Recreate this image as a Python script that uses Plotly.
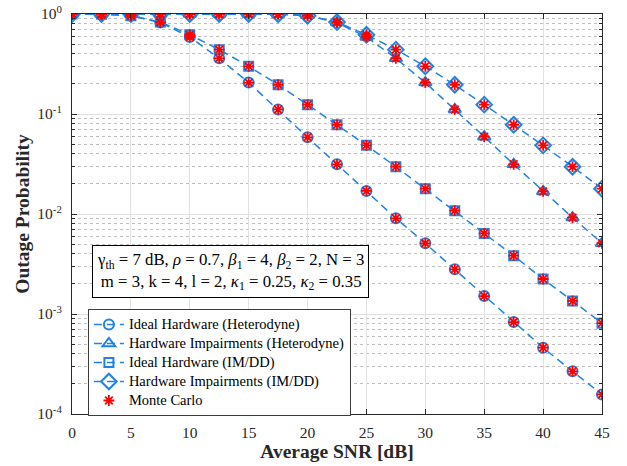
import plotly.graph_objects as go

snr_db = [0, 2.5, 5, 7.5, 10, 12.5, 15, 17.5, 20, 22.5, 25, 27.5, 30, 32.5, 35, 37.5, 40, 42.5, 45]

ideal_het = [1.0, 0.995, 0.97, 0.82, 0.59, 0.36, 0.206, 0.111, 0.0585, 0.0314, 0.017,
             0.00906, 0.00509, 0.0028, 0.00151, 0.00083, 0.00046, 0.000267, 0.000157]
hwi_het = [1.0, 1.0, 1.0, 1.0, 1.0, 1.0, 0.999, 0.995, 0.97, 0.82, 0.59,
           0.36, 0.206, 0.111, 0.0593, 0.0314, 0.0168, 0.0092, 0.0051]
ideal_imdd = [1.0, 0.995, 0.96, 0.83, 0.62, 0.44, 0.30, 0.196, 0.124, 0.078, 0.0486,
              0.0297, 0.0179, 0.0108, 0.0064, 0.00383, 0.00224, 0.00135, 0.00081]
hwi_imdd = [1.0, 1.0, 1.0, 1.0, 1.0, 1.0, 0.999, 0.995, 0.96, 0.83, 0.62,
            0.44, 0.30, 0.196, 0.124, 0.078, 0.0486, 0.0297, 0.0179]

series_names = ["Ideal Hardware (Heterodyne)", "Hardware Impairments (Heterodyne)",
                "Ideal Hardware (IM/DD)", "Hardware Impairments (IM/DD)"]
mc_name = "Monte Carlo"
series_values = [ideal_het, hwi_het, ideal_imdd, hwi_imdd]
series_symbols = ["circle-open", "triangle-up-open", "square-open", "diamond-open"]

y_tickvals = [1e-4, 1e-3, 1e-2, 1e-1, 1]
y_ticktext = ["10<sup>-4</sup>", "10<sup>-3</sup>", "10<sup>-2</sup>", "10<sup>-1</sup>", "10<sup>0</sup>"]
x_tickvals = [0, 5, 10, 15, 20, 25, 30, 35, 40, 45]

BLUE = "rgb(30,130,230)"
RED = "rgb(255,0,0)"
FONT = "Liberation Serif"
AX = "rgb(40,40,40)"


def legend_label(s):
    # rendered larger than the legend font so rows stay tight
    return '<span style="font-size:14.5px">' + s + '</span>'


fig = go.Figure()
for name, vals, sym in zip(series_names, series_values, series_symbols):
    fig.add_trace(go.Scatter(
        x=snr_db, y=vals, name=legend_label(name), mode="lines+markers",
        line=dict(color=BLUE, width=1.5, dash="8px,5px"),
        marker=dict(symbol=sym, size={"circle-open": 10, "triangle-up-open": 11,
                                      "square-open": 9, "diamond-open": 12}[sym],
                    color=BLUE, line=dict(color=BLUE, width=2)),
    ))

mc_x = []
mc_y = []
for vals in series_values:
    mc_x += snr_db
    mc_y += vals
fig.add_trace(go.Scatter(
    x=mc_x, y=mc_y, name=legend_label(mc_name), mode="markers",
    marker=dict(symbol="asterisk-open", size=9, color=RED, line=dict(color=RED, width=1.8)),
))

fig.update_layout(
    width=627, height=466,
    margin=dict(l=72, r=25, t=14, b=52),
    paper_bgcolor="white", plot_bgcolor="white",
    font=dict(family=FONT, size=15, color=AX),
    showlegend=True,
    legend=dict(
        x=0.030, y=0.2625, xanchor="left", yanchor="top",
        bgcolor="white", bordercolor="rgb(60,60,60)", borderwidth=1,
        font=dict(family=FONT, size=11, color="black"),
        tracegroupgap=0, itemwidth=30,
    ),
    xaxis=dict(
        range=[0, 45], tickvals=x_tickvals, ticks="inside", ticklen=5, tickcolor=AX,
        showline=True, linecolor=AX, linewidth=1, mirror="allticks",
        showgrid=True, gridcolor="rgb(225,225,225)", gridwidth=1, zeroline=False,
        automargin=False, ticklabelstandoff=4, ticklabeloverflow="allow",
        title=dict(text="<b>Average SNR [dB]</b>", font=dict(family=FONT, size=19.5, color=AX), standoff=2),
        tickfont=dict(family=FONT, size=15.5, color=AX),
    ),
    yaxis=dict(
        type="log", range=[-4, 0], tickvals=y_tickvals, ticktext=y_ticktext,
        ticks="inside", ticklen=5, tickcolor=AX,
        showline=True, linecolor=AX, linewidth=1, mirror="allticks",
        showgrid=True, gridcolor="rgb(225,225,225)", gridwidth=1, zeroline=False,
        automargin=False, ticklabelstandoff=6, ticklabeloverflow="allow",
        minor=dict(dtick="D1", ticks="inside", ticklen=3, showgrid=True, gridcolor="rgb(190,190,190)",
                   griddash="dot", gridwidth=1, tickcolor=AX),
        title=dict(text="<b>Outage Probability</b>", font=dict(family=FONT, size=19.5, color=AX), standoff=2),
        tickfont=dict(family=FONT, size=15.5, color=AX),
    ),
)

fig.add_annotation(
    xref="paper", yref="paper", x=0.299, y=0.3575, xanchor="center", yanchor="middle",
    text=("γ<sub>th</sub> = 7 dB, <i>ρ</i> = 0.7, <i>β</i><sub>1</sub> = 4, <i>β</i><sub>2</sub> = 2, N = 3<br>"
          "m = 3, k = 4, l = 2, <i>κ</i><sub>1</sub> = 0.25, <i>κ</i><sub>2</sub> = 0.35"),
    showarrow=False, align="center",
    font=dict(family=FONT, size=16.8, color="black"),
    bgcolor="white", bordercolor="black", borderwidth=1, borderpad=4,
)

fig.write_html("out.html", config={"displayModeBar": False},
               post_script="document.body.style.margin='0';")
